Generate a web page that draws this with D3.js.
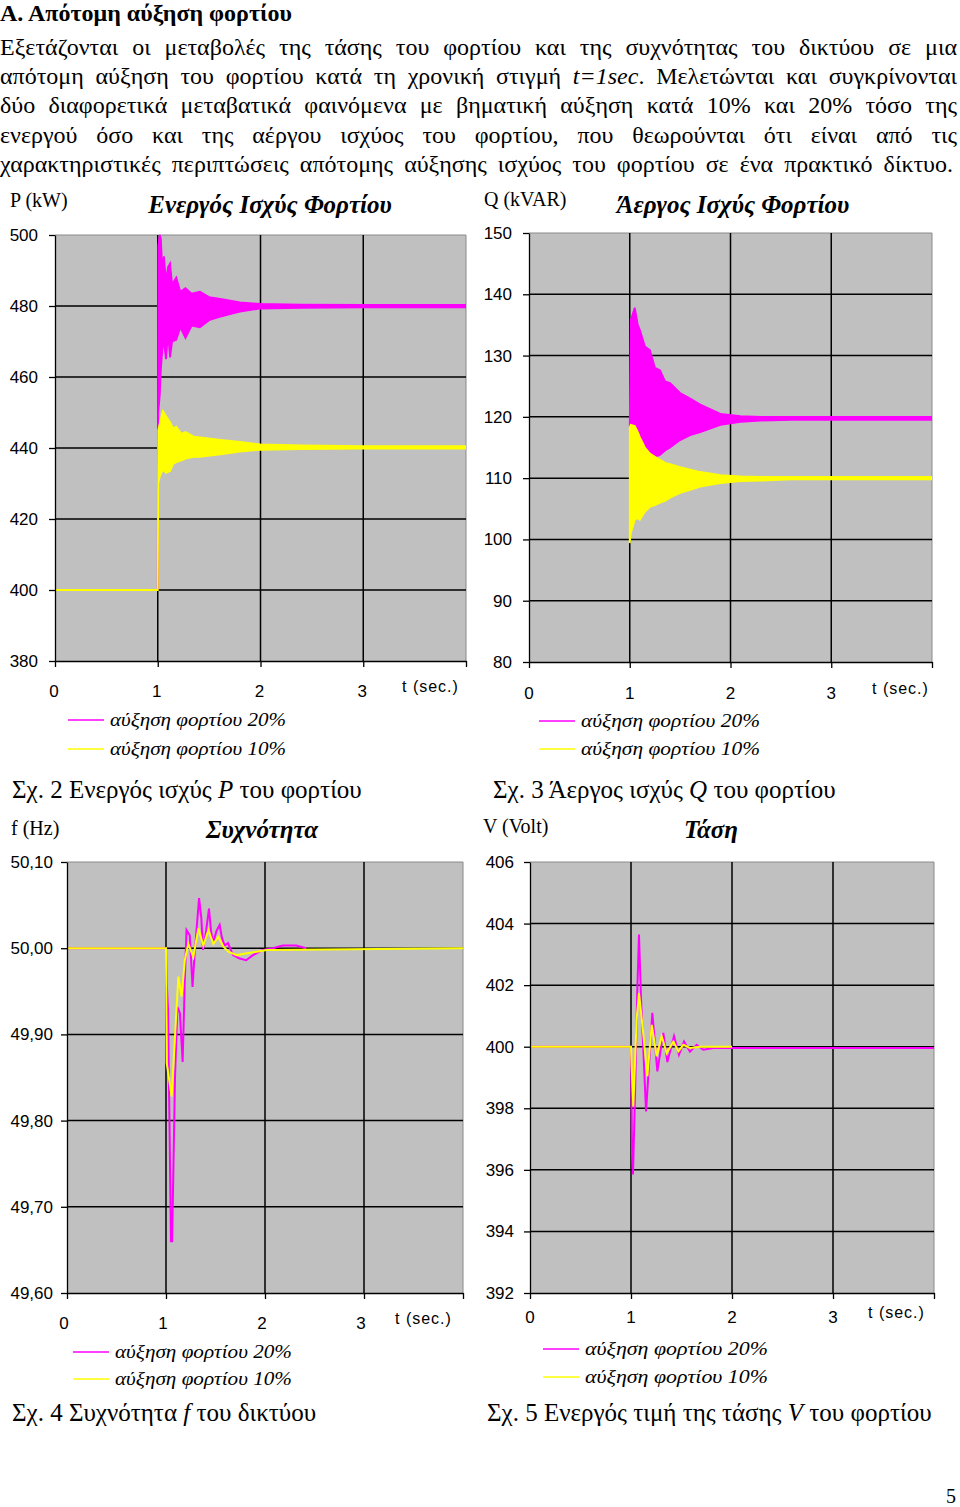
<!DOCTYPE html>
<html><head><meta charset="utf-8">
<script src="https://cdn.jsdelivr.net/npm/d3@7"></script>
<style>
html,body{margin:0;padding:0;background:#fff;}
svg{display:block;}
</style></head>
<body>
<svg id="page" width="960" height="1507"></svg>
<script>
// ---------------- DATA ----------------
const seriesNames = ["αύξηση φορτίου 20%", "αύξηση φορτίου 10%"];
const seriesColors = ["#ff00ff", "#ffff00"];
const xTickLabels = ["0", "1", "2", "3"];

// Fig 2: active power P (kW) – envelope of the oscillation (upper / lower)
const p20Time = [1.0, 1.005, 1.02, 1.03, 1.045, 1.06, 1.08, 1.1, 1.12, 1.14, 1.18, 1.22, 1.27, 1.33, 1.41, 1.5, 1.61, 1.8, 2.0, 2.4, 3.0, 4.0];
const p20Hi   = [400, 497, 500, 499, 490, 494, 487, 491, 492, 486, 488, 484, 485, 483.5, 484, 482.5, 482, 481, 480.6, 480.4, 480.3, 480.3];
const p20Lo   = [400, 450, 455, 462, 468, 470, 465, 472, 465.5, 470, 470.5, 474, 471, 474.5, 474, 476, 477, 478.4, 479.3, 479.5, 479.6, 479.6];
const p10Time = [0, 1.0, 1.005, 1.02, 1.05, 1.08, 1.12, 1.15, 1.18, 1.23, 1.27, 1.35, 1.41, 1.61, 1.8, 2.0, 2.4, 3.0, 4.0];
const p10Hi   = [400, 400, 445, 447, 450.4, 449, 447.3, 445.5, 446, 444, 444.5, 443.2, 443, 442.3, 441.7, 441, 440.7, 440.5, 440.5];
const p10Lo   = [400, 400, 430, 432, 434, 433, 433.5, 435.5, 436, 436.5, 437, 437.5, 437.5, 438.2, 439, 439.5, 439.7, 439.8, 439.8];
const pTicks = [380, 400, 420, 440, 460, 480, 500];

// Fig 3: reactive power Q (kVAR) – envelope
const qTime  = [1.0, 1.01, 1.05, 1.08, 1.1, 1.15, 1.2, 1.25, 1.3, 1.35, 1.4, 1.5, 1.6, 1.7, 1.9, 2.1, 2.3, 2.6, 3.0, 4.0];
const q20Hi  = [118.5, 135.8, 137.8, 135, 134.2, 131.5, 130.9, 128, 127.6, 125.8, 125.5, 123.9, 123, 122, 120.5, 120.1, 120.0, 120.0, 120.0, 120.0];
const q20Lo  = [118.5, 117, 116, 115.5, 115, 114.2, 113.8, 113.5, 113.8, 114.5, 115, 116.2, 117, 117.5, 118.7, 119.2, 119.4, 119.5, 119.5, 119.5];
const q10Hi  = [118.3, 118.7, 118.5, 117.5, 116.7, 115, 114, 113.5, 113, 112.5, 112.3, 111.8, 111.4, 111, 110.5, 110.3, 110.2, 110.2, 110.2, 110.2];
const q10Lo  = [99.4, 101, 103.2, 103.5, 103.2, 104.5, 105.3, 105.6, 106, 106.3, 106.8, 107.6, 108.1, 108.6, 109.2, 109.5, 109.6, 109.8, 109.8, 109.8];
const qTicks = [80, 90, 100, 110, 120, 130, 140, 150];

// Fig 4: frequency f (Hz)
const f20Time = [0, 1.0, 1.007, 1.02, 1.035, 1.05, 1.062, 1.074, 1.091, 1.115, 1.14, 1.168, 1.19, 1.207, 1.24, 1.268, 1.29, 1.334, 1.357, 1.374, 1.405, 1.434, 1.455, 1.475, 1.51, 1.542, 1.565, 1.592, 1.626, 1.677, 1.744, 1.81, 1.878, 1.979, 2.08, 2.18, 2.315, 2.416];
const f20Val  = [50, 50, 49.96, 49.93, 49.80, 49.66, 49.66, 49.74, 49.85, 49.932, 49.925, 49.868, 49.963, 50.021, 50.015, 49.955, 49.995, 50.058, 50.035, 49.998, 50.02, 50.046, 50.02, 50.006, 50.02, 50.027, 50.012, 50.003, 50.006, 49.992, 49.988, 49.986, 49.992, 49.998, 50.0, 50.003, 50.003, 50.0];
const f10Time = [0, 1.0, 1.007, 1.057, 1.125, 1.158, 1.19, 1.225, 1.276, 1.327, 1.377, 1.428, 1.478, 1.529, 1.579, 1.63, 1.714, 1.916, 2.017, 4.0];
const f10Val  = [50.0, 50.0, 49.867, 49.828, 49.967, 49.944, 49.986, 50.005, 49.990, 50.023, 50.003, 50.021, 50.005, 50.013, 50.002, 49.996, 49.992, 49.996, 49.998, 50.0];
const fTicks  = [49.6, 49.7, 49.8, 49.9, 50.0, 50.1];

// Fig 5: voltage V (Volt)
const v20Time = [0, 1.0, 1.01, 1.02, 1.04, 1.062, 1.079, 1.1, 1.149, 1.211, 1.261, 1.32, 1.36, 1.426, 1.475, 1.525, 1.584, 1.65, 1.716, 1.815, 1.947, 4.0];
const v20Val  = [400, 400, 396.5, 395.85, 398.5, 401.8, 403.64, 401.5, 397.9, 401.1, 399.2, 400.45, 399.5, 400.34, 399.74, 400.17, 399.84, 400.06, 399.9, 399.96, 399.96, 399.96];
const v10Time = [0, 1.0, 1.007, 1.023, 1.056, 1.079, 1.122, 1.162, 1.205, 1.254, 1.304, 1.353, 1.419, 1.469, 1.518, 1.584, 1.683, 2.0];
const v10Val  = [400, 400, 399.3, 398.06, 400.9, 401.74, 400.4, 399.04, 400.71, 399.69, 400.34, 399.79, 400.17, 399.85, 400.06, 399.96, 400.0, 400.0];
const vTicks  = [392, 394, 396, 398, 400, 402, 404, 406];

// ---------------- DRAWING ----------------
const svg = d3.select("#page");
const serif = '"Liberation Serif","Times New Roman",serif';
const sans = '"Liberation Sans",Arial,sans-serif';

// Header and paragraph
svg.append("text").attr("x", 0).attr("y", 21).attr("font-family", serif)
  .attr("font-size", 24).attr("font-weight", "bold").text("Α. Απότομη αύξηση φορτίου");

const paraLines = [
  [["Εξετάζονται οι μεταβολές της τάσης του φορτίου και της συχνότητας του δικτύου σε μια", false]],
  [["απότομη αύξηση του φορτίου κατά τη χρονική στιγμή ", false], ["t=1sec", true], [". Μελετώνται και συγκρίνονται", false]],
  [["δύο διαφορετικά μεταβατικά φαινόμενα με βηματική αύξηση κατά 10% και 20% τόσο της", false]],
  [["ενεργού όσο και της αέργου ισχύος του φορτίου, που θεωρούνται ότι είναι από τις", false]],
  [["χαρακτηριστικές περιπτώσεις απότομης αύξησης ισχύος του φορτίου σε ένα πρακτικό δίκτυο.", false]]
];
const paraTargets = [957, 957, 957, 957, 953];
paraLines.forEach((segs, i) => {
  const t = svg.append("text").attr("x", 0).attr("y", 55 + i * 29.2)
    .attr("font-family", serif).attr("font-size", 24);
  segs.forEach(s => t.append("tspan").attr("font-style", s[1] ? "italic" : null).text(s[0]));
  const natural = t.node().getComputedTextLength();
  const spaces = segs.map(s => s[0]).join("").split(" ").length - 1;
  const ws = (paraTargets[i] - natural) / spaces;
  t.attr("word-spacing", ws);
});

function drawChart(cfg) {
  const g = svg.append("g");
  const x = d3.scaleLinear().domain([0, 4]).range([cfg.x0, cfg.x1]);
  const y = d3.scaleLinear().domain([cfg.ticks[0], cfg.ticks[cfg.ticks.length - 1]]).range([cfg.y0, cfg.y1]);

  g.append("rect").attr("x", cfg.x0).attr("y", cfg.y1).attr("width", cfg.x1 - cfg.x0)
    .attr("height", cfg.y0 - cfg.y1).attr("fill", "#c0c0c0");
  g.append("path").attr("d", `M${cfg.x0},${cfg.y1}H${cfg.x1}V${cfg.y0}`)
    .attr("fill", "none").attr("stroke", "#8a8a8a").attr("stroke-width", 1);

  g.selectAll(".hg").data(cfg.ticks.slice(1, -1)).join("line")
    .attr("x1", cfg.x0).attr("x2", cfg.x1).attr("y1", d => y(d)).attr("y2", d => y(d))
    .attr("stroke", "#000").attr("stroke-width", 1.5);
  g.selectAll(".vg").data([1, 2, 3]).join("line")
    .attr("x1", d => x(d)).attr("x2", d => x(d)).attr("y1", cfg.y1).attr("y2", cfg.y0)
    .attr("stroke", "#000").attr("stroke-width", 1.5);

  const clip = "clip" + cfg.id;
  g.append("clipPath").attr("id", clip).append("rect")
    .attr("x", cfg.x0).attr("y", cfg.y1 - 1).attr("width", cfg.x1 - cfg.x0).attr("height", cfg.y0 - cfg.y1 + 1);
  const dg = g.append("g").attr("clip-path", `url(#${clip})`);
  if (cfg.env) {
    const area = d3.area().x(d => x(d.t)).y0(d => y(d.lo)).y1(d => y(d.hi));
    cfg.env.forEach((e, k) => {
      const rows = e.t.map((t, i) => ({t, hi: e.hi[i], lo: e.lo[i]}));
      dg.append("path").attr("d", area(rows)).attr("fill", seriesColors[k])
        .attr("stroke", seriesColors[k]).attr("stroke-width", 1.8).attr("stroke-linejoin", "miter");
    });
  } else {
    const line = d3.line().x(d => x(d.t)).y(d => y(d.v));
    cfg.lines.forEach((e, k) => {
      const rows = e.t.map((t, i) => ({t, v: e.v[i]}));
      dg.append("path").attr("d", line(rows)).attr("fill", "none")
        .attr("stroke", seriesColors[k]).attr("stroke-width", 2);
    });
  }

  const ya = g.append("g").attr("transform", `translate(${cfg.x0},0)`)
    .call(d3.axisLeft(y).tickValues(cfg.ticks).tickSize(6).tickSizeOuter(0).tickPadding(cfg.pad).tickFormat(cfg.fmt));
  ya.select(".domain").attr("stroke", "#000").attr("stroke-width", 1.3);
  ya.selectAll(".tick line").attr("stroke", "#000").attr("stroke-width", 1.3);
  ya.selectAll(".tick text").attr("font-family", sans).attr("font-size", 17).attr("fill", "#000");

  const xa = g.append("g").attr("transform", `translate(0,${cfg.y0})`)
    .call(d3.axisBottom(x).tickValues([0, 1, 2, 3, 4]).tickSize(6).tickSizeOuter(0).tickFormat(""));
  xa.select(".domain").attr("stroke", "#000").attr("stroke-width", 1.3);
  xa.selectAll(".tick line").attr("stroke", "#000").attr("stroke-width", 1.3);
  g.selectAll(".xl").data(xTickLabels).join("text")
    .attr("x", (d, i) => x(i) - cfg.xlShift).attr("y", cfg.y0 + cfg.xlDy)
    .attr("text-anchor", "middle").attr("font-family", sans).attr("font-size", 17).text(d => d);
  g.append("text").attr("x", cfg.tsecX).attr("y", cfg.y0 + cfg.xlDy - 5)
    .attr("font-family", sans).attr("font-size", 16).attr("letter-spacing", 1).text("t (sec.)");

  g.append("text").attr("x", cfg.unitX).attr("y", cfg.unitY).attr("font-family", serif)
    .attr("font-size", 20).text(cfg.unit);
  g.append("text").attr("x", cfg.titleX).attr("y", cfg.titleY).attr("text-anchor", "middle")
    .attr("font-family", serif).attr("font-size", 25).attr("font-weight", "bold").attr("font-style", "italic")
    .text(cfg.title);

  seriesNames.forEach((n, k) => {
    const ly = cfg.legY[k];
    g.append("line").attr("x1", cfg.legX).attr("x2", cfg.legX + 36).attr("y1", ly).attr("y2", ly)
      .attr("stroke", seriesColors[k]).attr("stroke-width", 1.5);
    g.append("text").attr("x", cfg.legX + 42).attr("y", ly + 6).attr("font-family", serif)
      .attr("font-size", 19).attr("font-style", "italic").attr("textLength", cfg.legW)
      .attr("lengthAdjust", "spacingAndGlyphs").text(n);
  });

  const c = g.append("text").attr("x", cfg.capX).attr("y", cfg.capY).attr("font-family", serif).attr("font-size", 25);
  cfg.caption.forEach(s => c.append("tspan").attr("font-style", s[1] ? "italic" : null).text(s[0]));
}

const fmtComma = d => d3.format(".2f")(d).replace(".", ",");

drawChart({id: "P", x0: 55, x1: 466, y0: 661, y1: 235, ticks: pTicks, pad: 11, fmt: d3.format("d"),
  env: [{t: p20Time, hi: p20Hi, lo: p20Lo}, {t: p10Time, hi: p10Hi, lo: p10Lo}],
  xlShift: 1, xlDy: 36, tsecX: 402, unit: "P (kW)", unitX: 10, unitY: 207,
  title: "Ενεργός Ισχύς Φορτίου", titleX: 270, titleY: 213,
  legX: 68, legY: [720, 749], legW: 176,
  caption: [["Σχ. 2 Ενεργός ισχύς ", false], ["P", true], [" του φορτίου", false]], capX: 12, capY: 798});

drawChart({id: "Q", x0: 529, x1: 932, y0: 662, y1: 233, ticks: qTicks, pad: 11, fmt: d3.format("d"),
  env: [{t: qTime, hi: q20Hi, lo: q20Lo}, {t: qTime, hi: q10Hi, lo: q10Lo}],
  xlShift: 0, xlDy: 37, tsecX: 872, unit: "Q (kVAR)", unitX: 484, unitY: 206,
  title: "Άεργος Ισχύς Φορτίου", titleX: 733, titleY: 213,
  legX: 539, legY: [721, 749], legW: 179,
  caption: [["Σχ. 3 Άεργος ισχύς ", false], ["Q", true], [" του φορτίου", false]], capX: 493, capY: 798});

drawChart({id: "F", x0: 67, x1: 463, y0: 1293, y1: 862, ticks: fTicks, pad: 8, fmt: fmtComma,
  lines: [{t: f20Time, v: f20Val}, {t: f10Time, v: f10Val}],
  xlShift: 3, xlDy: 36, tsecX: 395, unit: "f (Hz)", unitX: 11, unitY: 835,
  title: "Συχνότητα", titleX: 262, titleY: 838,
  legX: 73, legY: [1352, 1379], legW: 177,
  caption: [["Σχ. 4 Συχνότητα ", false], ["f", true], [" του δικτύου", false]], capX: 12, capY: 1421});

drawChart({id: "V", x0: 530, x1: 934, y0: 1293, y1: 862, ticks: vTicks, pad: 10, fmt: d3.format("d"),
  lines: [{t: v20Time, v: v20Val}, {t: v10Time, v: v10Val}],
  xlShift: 0, xlDy: 30, tsecX: 868, unit: "V (Volt)", unitX: 483, unitY: 833,
  title: "Τάση", titleX: 711, titleY: 838,
  legX: 543, legY: [1349, 1377], legW: 183,
  caption: [["Σχ. 5 Ενεργός τιμή της τάσης ", false], ["V", true], [" του φορτίου", false]], capX: 487, capY: 1421});

svg.append("text").attr("x", 956).attr("y", 1503).attr("text-anchor", "end")
  .attr("font-family", serif).attr("font-size", 20).text("5");
</script>
</body></html>
